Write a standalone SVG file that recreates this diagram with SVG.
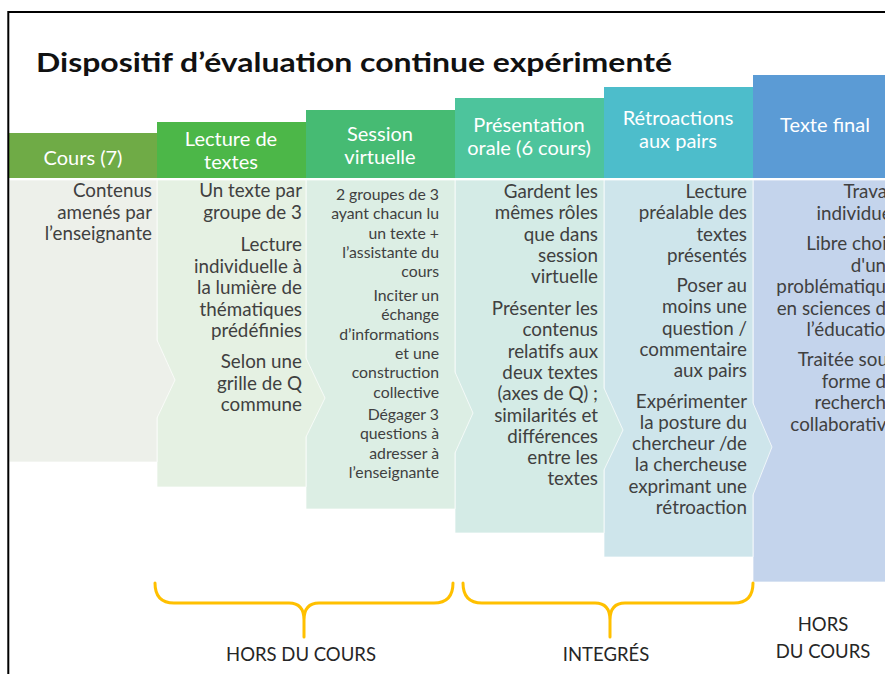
<svg xmlns="http://www.w3.org/2000/svg" width="885" height="674" viewBox="0 0 885 674">
<style>
.t{font-family:Lato,"Liberation Sans",sans-serif}
.h{font-family:Lato,"Liberation Sans",sans-serif;font-size:20px;fill:#fff;text-anchor:middle}
.b{font-family:Lato,"Liberation Sans",sans-serif;font-size:18.8px;fill:#404040;text-anchor:end}
.b3{font-family:Lato,"Liberation Sans",sans-serif;font-size:15.8px;fill:#404040;text-anchor:end}
.lab{font-family:Lato,"Liberation Sans",sans-serif;font-size:18.5px;fill:#262626;text-anchor:middle}
.body{stroke:#ffffff;stroke-opacity:0.7;stroke-width:1}
.br{fill:none;stroke:#FFC000;stroke-width:3;stroke-linecap:round;stroke-linejoin:round}
</style>
<rect width="885" height="674" fill="#fff"/>
<text class="t" x="36" y="72" font-size="27" font-weight="700" fill="#111" textLength="636" lengthAdjust="spacingAndGlyphs">Dispositif d’évaluation continue expérimenté</text>

<g id="texte-final">
<rect x="753" y="75" width="140" height="103" fill="#5B9BD5"/>
<rect class="body" x="753" y="180" width="140" height="402" fill="#C4D4EC"/>
<text class="h" x="825" y="132">Texte final</text>
<text class="b" x="896"><tspan x="896" y="198">Travail</tspan><tspan x="896" y="219.5">individuel</tspan><tspan x="896" y="250">Libre choix</tspan><tspan x="896" y="271.5">d'une</tspan><tspan x="896" y="293">problématique</tspan><tspan x="896" y="314.5">en sciences de</tspan><tspan x="896" y="336">l’éducation</tspan><tspan x="896" y="366">Traitée sous</tspan><tspan x="896" y="387.5">forme de</tspan><tspan x="896" y="409">recherche</tspan><tspan x="896" y="430.5">collaborative</tspan></text>
</g>
<g id="retroactions">
<rect x="604" y="87" width="149" height="91" fill="#4DBDCB"/>
<polygon class="body" points="604,180 753,180 753,403 772,447 753,495 753,557 604,557" fill="#CEE5EB"/>
<text class="h"><tspan x="678" y="125">Rétroactions</tspan><tspan x="678" y="148">aux pairs</tspan></text>
<text class="b"><tspan x="747" y="198">Lecture</tspan><tspan x="747" y="219.3">préalable des</tspan><tspan x="747" y="240.6">textes</tspan><tspan x="747" y="261.9">présentés</tspan><tspan x="747" y="292">Poser au</tspan><tspan x="747" y="313.3">moins une</tspan><tspan x="747" y="334.6">question /</tspan><tspan x="747" y="355.9">commentaire</tspan><tspan x="747" y="377.2">aux pairs</tspan><tspan x="747" y="407.5">Expérimenter</tspan><tspan x="747" y="428.8">la posture du</tspan><tspan x="747" y="450.1">chercheur /de</tspan><tspan x="747" y="471.4">la chercheuse</tspan><tspan x="747" y="492.7">exprimant une</tspan><tspan x="747" y="514">rétroaction</tspan></text>
</g>
<g id="presentation-orale">
<rect x="455" y="98" width="149" height="80" fill="#4DC49C"/>
<polygon class="body" points="455,180 604,180 604,388 623,430 604,470 604,533 455,533" fill="#D4EBE6"/>
<text class="h"><tspan x="529" y="132">Présentation</tspan><tspan x="529" y="155">orale (6 cours)</tspan></text>
<text class="b"><tspan x="598" y="198">Gardent les</tspan><tspan x="598" y="219.3">mêmes rôles</tspan><tspan x="598" y="240.6">que dans</tspan><tspan x="598" y="261.9">session</tspan><tspan x="598" y="283.2">virtuelle</tspan><tspan x="598" y="315">Présenter les</tspan><tspan x="598" y="336.3">contenus</tspan><tspan x="598" y="357.6">relatifs aux</tspan><tspan x="598" y="378.9">deux textes</tspan><tspan x="598" y="400.2">(axes de Q) ;</tspan><tspan x="598" y="421.5">similarités et</tspan><tspan x="598" y="442.8">différences</tspan><tspan x="598" y="464.1">entre les</tspan><tspan x="598" y="485.4">textes</tspan></text>
</g>
<g id="session-virtuelle">
<rect x="306" y="110" width="149" height="68" fill="#46BB73"/>
<polygon class="body" points="306,180 455,180 455,372 473,413 455,453 455,509 306,509" fill="#DCEEE4"/>
<text class="h"><tspan x="380" y="141">Session</tspan><tspan x="380" y="164">virtuelle</tspan></text>
<text class="b3"><tspan x="439" y="200">2 groupes de 3</tspan><tspan x="439" y="219.3">ayant chacun lu</tspan><tspan x="439" y="238.6">un texte +</tspan><tspan x="439" y="257.9">l’assistante du</tspan><tspan x="439" y="277.2">cours</tspan><tspan x="439" y="301">Inciter un</tspan><tspan x="439" y="320.3">échange</tspan><tspan x="439" y="339.6">d’informations</tspan><tspan x="439" y="358.9">et une</tspan><tspan x="439" y="378.2">construction</tspan><tspan x="439" y="397.5">collective</tspan><tspan x="439" y="420">Dégager 3</tspan><tspan x="439" y="439.3">questions à</tspan><tspan x="439" y="458.6">adresser à</tspan><tspan x="439" y="477.9">l’enseignante</tspan></text>
</g>
<g id="lecture-textes">
<rect x="157" y="122" width="149" height="56" fill="#4CB748"/>
<polygon class="body" points="157,180 306,180 306,358 325,398 306,437 306,487 157,487" fill="#E5F1E3"/>
<text class="h"><tspan x="231" y="146">Lecture de</tspan><tspan x="231" y="168.5">textes</tspan></text>
<text class="b"><tspan x="302" y="197">Un texte par</tspan><tspan x="302" y="218.5">groupe de 3</tspan><tspan x="302" y="251">Lecture</tspan><tspan x="302" y="272.5">individuelle à</tspan><tspan x="302" y="294">la lumière de</tspan><tspan x="302" y="315.5">thématiques</tspan><tspan x="302" y="337">prédéfinies</tspan><tspan x="302" y="368">Selon une</tspan><tspan x="302" y="389.5">grille de Q</tspan><tspan x="302" y="411">commune</tspan></text>
</g>
<g id="cours">
<rect x="9" y="133" width="148" height="45" fill="#6FAB46"/>
<polygon class="body" points="9,180 157,180 157,340 175,380 157,418 157,462 9,462" fill="#EDF0EA"/>
<text class="h" x="83" y="165">Cours (7)</text>
<text class="b"><tspan x="152" y="197">Contenus</tspan><tspan x="152" y="218.5">amenés par</tspan><tspan x="152" y="240">l’enseignante</tspan></text>
</g>

<g id="brackets">
<path class="br" d="M155,583 Q155,603 174,603 L289,603 Q304,603 304,620 L304,637 M304,620 Q304,603 319,603 L434,603 Q453,603 453,583"/>
<path class="br" d="M463,583 Q463,603 482,603 L595,603 Q610,603 610,620 L610,637 M610,620 Q610,603 625,603 L734,603 Q753,603 753,583"/>
</g>
<g id="labels">
<text class="lab" x="301" y="661">HORS DU COURS</text>
<text class="lab" x="606" y="661">INTEGRÉS</text>
<text class="lab"><tspan x="823" y="631">HORS</tspan><tspan x="823" y="658">DU COURS</tspan></text>
</g>

<g id="frame" fill="none" stroke="#000" stroke-width="2">
<path d="M8.3,674 L8.3,12 L885,12"/>
</g>
</svg>
